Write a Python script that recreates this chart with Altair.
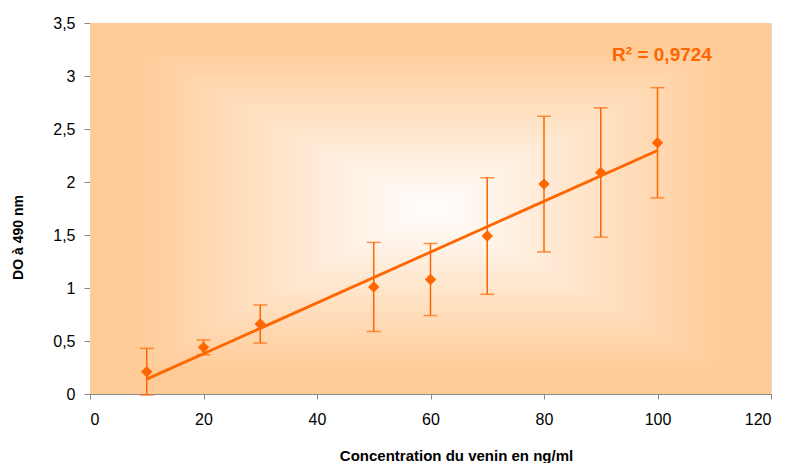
import altair as alt
import pandas as pd

# Data
conc = [10, 20, 30, 50, 60, 70, 80, 90, 100]
do_mean = [0.21, 0.44, 0.66, 1.01, 1.08, 1.49, 1.98, 2.09, 2.37]
do_err = [0.22, 0.07, 0.18, 0.42, 0.34, 0.55, 0.64, 0.61, 0.52]
r2_label = "R² = 0,9724"

ORANGE = "#FF6600"
PEACH = (255, 204, 153)

df = pd.DataFrame({"x": conc, "y": do_mean, "err": do_err})
df["lo"] = df["y"] - df["err"]
df["hi"] = df["y"] + df["err"]

# rectangular "from centre" gradient background (decorative)
N = 60
rows = []
for i in range(N, 0, -1):
    t = i / N
    s = min(1.0, t * 1.15)
    r = round(255 + (PEACH[0] - 255) * s)
    g = round(255 + (PEACH[1] - 255) * s)
    b = round(255 + (PEACH[2] - 255) * s)
    rows.append({"x1": 60 - 60 * t, "x2": 60 + 60 * t,
                 "y1": 1.75 - 1.75 * t, "y2": 1.75 + 1.75 * t,
                 "c": f"#{r:02x}{g:02x}{b:02x}", "o": N - i})
bg_df = pd.DataFrame(rows)

xscale = alt.Scale(domain=[0, 120], nice=False, zero=False)
yscale = alt.Scale(domain=[0, 3.5], nice=False, zero=False)

FONT = "Liberation Sans"

x_axis = alt.Axis(values=[0, 20, 40, 60, 80, 100, 120], title="Concentration du venin en ng/ml",
                  grid=False, tickSize=5, labelPadding=12, labelFontSize=16,
                  titleFontSize=15, titleFontWeight="bold", titleX=366, titleY=66,
                  titleBaseline="alphabetic", titleAlign="center")
y_axis = alt.Axis(values=[0, 0.5, 1, 1.5, 2, 2.5, 3, 3.5], title="DO à 490 nm",
                  grid=False, tickSize=6, labelPadding=9, labelFontSize=16,
                  labelExpr="replace(format(datum.value, '~f'), '.', ',')",
                  titleFontSize=14, titleFontWeight="bold", titleAngle=-90,
                  titleX=-72, titleY=214, titleBaseline="middle", titleAlign="center")

bg = alt.Chart(bg_df).mark_rect(strokeWidth=0).encode(
    x=alt.X("x1:Q", scale=xscale, axis=x_axis),
    x2="x2:Q",
    y=alt.Y("y1:Q", scale=yscale, axis=y_axis),
    y2="y2:Q",
    color=alt.Color("c:N", scale=None),
    order="o:Q",
)

base = alt.Chart(df)

rules = base.mark_rule(color=ORANGE, strokeWidth=1.5).encode(
    x=alt.X("x:Q", scale=xscale), y=alt.Y("lo:Q", scale=yscale), y2="hi:Q")
caps_hi = base.mark_tick(color=ORANGE, orient="horizontal", size=14, thickness=1.5).encode(
    x=alt.X("x:Q", scale=xscale), y=alt.Y("hi:Q", scale=yscale))
caps_lo = base.mark_tick(color=ORANGE, orient="horizontal", size=14, thickness=1.5).encode(
    x=alt.X("x:Q", scale=xscale), y=alt.Y("lo:Q", scale=yscale))

reg = base.transform_regression("x", "y", extent=[10, 100]).mark_line(
    color=ORANGE, strokeWidth=2.8).encode(
    x=alt.X("x:Q", scale=xscale), y=alt.Y("y:Q", scale=yscale))

pts = base.mark_point(shape="diamond", filled=True, size=130, color=ORANGE, opacity=1).encode(
    x=alt.X("x:Q", scale=xscale), y=alt.Y("y:Q", scale=yscale))

txt = alt.Chart(pd.DataFrame({"x": [92.0], "y": [3.2], "t": [r2_label]})).mark_text(
    color=ORANGE, fontSize=19, fontWeight="bold", align="left", baseline="middle", font=FONT
).encode(x=alt.X("x:Q", scale=xscale), y=alt.Y("y:Q", scale=yscale), text="t:N")

chart = alt.layer(bg, rules, caps_hi, caps_lo, reg, pts, txt).properties(
    width=681, height=371,
    autosize=alt.AutoSizeParams(type="none"),
    padding={"left": 82, "top": 15, "right": 13, "bottom": 69},
).configure_view(stroke="#888888", strokeWidth=1).configure_axis(
    domainColor="#666666", tickColor="#666666", labelColor="#000000", titleColor="#000000",
    labelFont=FONT, titleFont=FONT
).configure(background="white")

chart.save("out.html", embed_options={"renderer": "svg", "actions": False})
